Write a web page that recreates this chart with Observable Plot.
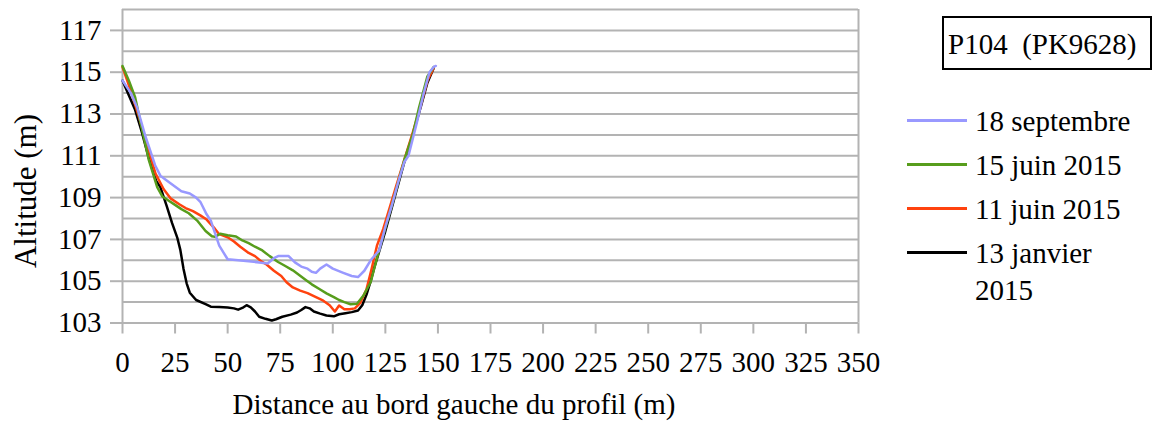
<!DOCTYPE html>
<html><head><meta charset="utf-8">
<script src="https://cdn.jsdelivr.net/npm/d3@7"></script>
<script src="https://cdn.jsdelivr.net/npm/@observablehq/plot@0.6"></script>
<style>
body{margin:0;background:#fff;font-family:"Liberation Serif",serif;}
#wrap{position:relative;width:1153px;height:421px;overflow:hidden}
.t{position:absolute;font-family:"Liberation Serif",serif;font-size:29px;color:#000;white-space:nowrap;line-height:1}
.sw{position:absolute;height:3px;width:60px}
#wrap svg text{font-family:"Liberation Serif",serif !important;}
</style></head><body><div id="wrap"></div>
<script>
// ---- data ----
const seriesNames = ["18 septembre", "15 juin 2015", "11 juin 2015", "13 janvier 2015"];
const seriesColors = ["#9999ff", "#579d1c", "#ff420e", "#000000"];
const xTicks = [0,25,50,75,100,125,150,175,200,225,250,275,300,325,350];
const yTicks = [103,105,107,109,111,113,115,117];
const yGrid = [103,104,105,106,107,108,109,110,111,112,113,114,115,116,117,118];
const chartTitle = "P104  (PK9628)";
const xTitle = "Distance au bord gauche du profil (m)";
const yTitle = "Altitude (m)";

const sepX = [0,4,7,11,15.5,18,22,28,32,35,37,40,42,46,50,55,60,65,69,72,74,79,82,85,88,90,92,94,97,100,105,109,112,115,118,121,122,125,128,131,134,136,140,143,146,148,149];
const sepY = [114.6,114.0,113.3,111.9,110.55,110.05,109.75,109.3,109.2,109.0,108.8,108.2,107.9,106.7,106.05,106.0,105.95,105.9,105.85,106.1,106.2,106.2,105.9,105.7,105.6,105.45,105.4,105.6,105.8,105.6,105.4,105.25,105.2,105.5,106.0,106.35,106.45,107.6,108.6,109.7,110.7,111.0,112.6,113.9,115.0,115.25,115.3];

const jun15X = [0,3,6,9,12.5,16.5,19,22,25,28,31.5,35.5,39.5,42.5,44,46.5,50,54,57,60,63,66.5,70,74,77,81,84,87,90,94,97,100.5,103,105.5,108.5,111.5,114.5,118,121,124,128,131,134,138,141,145,148];
const jun15Y = [115.3,114.6,113.8,112.4,110.8,109.5,109.05,108.85,108.65,108.45,108.25,107.9,107.4,107.15,107.12,107.27,107.2,107.14,106.95,106.82,106.65,106.47,106.2,105.92,105.75,105.52,105.3,105.07,104.85,104.6,104.42,104.24,104.1,104.0,103.9,103.92,104.3,104.95,106.1,107.2,108.6,109.7,110.8,112.0,113.3,114.8,115.25];

const jun11X = [0,4,8,12,15.7,19.6,23,27,30,33.5,37,40,44,46,50,53,56,60,63,66,68.5,72,75.5,78,81,84.5,88,92,95,98.5,101,103,105.5,108,110.5,113,116,118.5,121,124,127,130,134,138,141.5,145,148];
const jun11Y = [115.25,114.1,112.8,111.4,110.15,109.4,108.95,108.68,108.5,108.35,108.15,107.95,107.5,107.25,107.1,106.9,106.65,106.35,106.2,105.95,105.8,105.5,105.25,104.95,104.7,104.55,104.43,104.24,104.1,103.85,103.55,103.84,103.66,103.66,103.7,103.95,104.6,105.6,106.7,107.5,108.5,109.5,110.8,112.1,113.3,114.6,115.2];

const janX = [0,3,6,9,12.5,16,18,21,23.5,26,27.5,29,30.5,32,35,39.5,42,46,50,53,55,57,59,61,63,65,68,71,73,76,80,83,85,87,89,91,94,97,100.5,103,106,109,112,114,116,118,120,122,125,128,131,134,138,142,145,148];
const janY = [114.6,113.9,113.2,112.2,110.9,109.8,109.5,108.6,107.8,107.1,106.5,105.6,104.9,104.45,104.1,103.9,103.78,103.76,103.74,103.7,103.64,103.72,103.85,103.75,103.55,103.3,103.2,103.12,103.18,103.3,103.4,103.5,103.62,103.76,103.7,103.55,103.45,103.36,103.32,103.42,103.47,103.52,103.6,103.85,104.35,105.0,105.75,106.4,107.4,108.5,109.6,110.7,112.0,113.4,114.5,115.2];

// ---- build ----
const toRows = (xs, ys) => xs.map((x, i) => ({x, y: ys[i]}));
const drawOrder = [
  {rows: toRows(janX, janY), color: seriesColors[3]},
  {rows: toRows(jun11X, jun11Y), color: seriesColors[2]},
  {rows: toRows(jun15X, jun15Y), color: seriesColors[1]},
  {rows: toRows(sepX, sepY), color: seriesColors[0]}
];

const grid = "#b3b3b3";
const plot = Plot.plot({
  width: 1153, height: 421,
  marginLeft: 122, marginRight: 295, marginTop: 9, marginBottom: 98.5,
  x: {domain: [0, 350]},
  y: {domain: [103, 118]},
  style: "font-family: 'Liberation Serif', serif; font-size: 29px; color: #000; background: #fff;",
  marks: [
    Plot.ruleY(yGrid, {stroke: grid, strokeWidth: 2}),
    Plot.ruleX([0, 350], {stroke: grid, strokeWidth: 2}),
    Plot.axisY({ticks: yTicks, tickSize: 12, tickPadding: 9, stroke: grid, strokeWidth: 2, fill: "#000", label: null, tickFormat: d => String(d)}),
    Plot.axisX({ticks: xTicks, tickSize: 11, tickPadding: 17, stroke: grid, strokeWidth: 2, fill: "#000", label: null, tickFormat: d => String(d)}),
    ...drawOrder.map(s => Plot.line(s.rows, {x: "x", y: "y", stroke: s.color, strokeWidth: 2.5}))
  ]
});
const wrap = document.getElementById("wrap");
wrap.appendChild(plot);

function addText(txt, css) {
  const d = document.createElement("div");
  d.className = "t";
  d.textContent = txt;
  Object.assign(d.style, css);
  wrap.appendChild(d);
  return d;
}
addText(xTitle, {left: "454px", top: "390px", transform: "translateX(-50%)"});
addText(yTitle, {left: "25px", top: "191px", fontSize: "31px", transform: "translate(-50%,-50%) rotate(-90deg)"});

// title box
const box = document.createElement("div");
Object.assign(box.style, {position: "absolute", left: "942px", top: "16px", width: "206px", height: "50px", border: "2px solid #000", boxSizing: "content-box"});
wrap.appendChild(box);
addText(chartTitle, {left: "948px", top: "30px", whiteSpace: "pre"});

// legend
const rowTops = [109, 153, 197, 241];
seriesNames.forEach((name, i) => {
  const sw = document.createElement("div");
  sw.className = "sw";
  Object.assign(sw.style, {left: "907px", top: (rowTops[i] + 10) + "px", background: seriesColors[i]});
  wrap.appendChild(sw);
  const t = addText(name, {whiteSpace: "normal", width: "170px", lineHeight: "37px"});
  t.style.left = "975px";
  t.style.top = (rowTops[i] - 6) + "px";
});
</script></body></html>
